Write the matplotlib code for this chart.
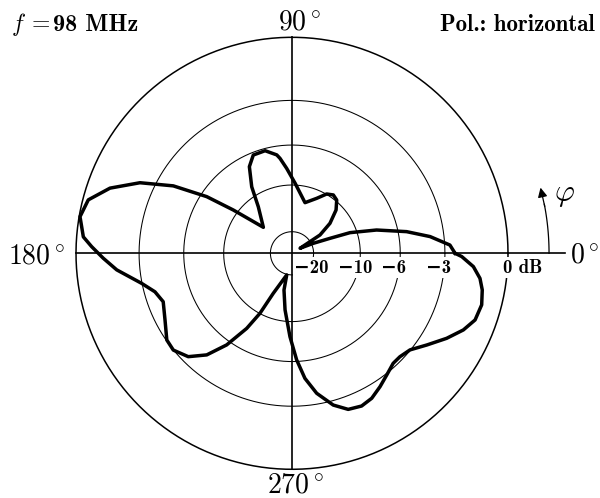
import numpy as np
import matplotlib
matplotlib.use("Agg")
import matplotlib.pyplot as plt

plt.rcParams["mathtext.fontset"] = "cm"
BOLD = ["cmb10", "DejaVu Serif"]

# horizontal-polarisation pattern at 98 MHz, relative field strength (linear, 1 = 0 dB)
angle_deg = np.array([
    0, 3.0, 6.9, 10.7, 15.4, 19.6, 21.5, 25.1, 32.0,
    33.2, 38.3, 44.5, 50.0, 54.7, 59.7, 65.8, 75.6, 87.5, 93.6,
    97.2, 98.8, 104.7, 111.5, 116.2, 121.2, 125.9, 137.8,
    143.6, 146.4, 150.4, 155.1, 160.3, 165.3, 170.2, 175.5, 178.1,
    181.5, 185.4, 191.3, 195.7, 200.6, 207.7, 214.7, 219.2, 224.9,
    230.0, 234.5, 238.9, 241.9, 244.9, 256.3,
    257.7, 263.0, 268.6, 272.5, 275.9, 280.0, 285.2, 289.8, 294.5,
    298.8, 303.4, 307.9, 312.6, 316.2, 320.7, 325.8, 331.2, 335.9,
    340.0, 344.8, 349.1, 352.4, 355.8, 358.9, 360.0])
rel_field = np.array([
    0.755, 0.732, 0.644, 0.540, 0.406, 0.285, 0.189, 0.109, 0.044,
    0.155, 0.224, 0.286, 0.322, 0.331, 0.318, 0.279, 0.242, 0.325, 0.394,
    0.443, 0.461, 0.491, 0.489, 0.447, 0.360, 0.266, 0.179,
    0.338, 0.474, 0.632, 0.776, 0.895, 0.975, 0.996, 0.969, 0.928,
    0.874, 0.815, 0.710, 0.659, 0.637, 0.664, 0.705, 0.709, 0.678,
    0.614, 0.521, 0.406, 0.315, 0.205, 0.103,
    0.174, 0.264, 0.386, 0.494, 0.582, 0.658, 0.728, 0.768, 0.777,
    0.766, 0.740, 0.714, 0.692, 0.692, 0.706, 0.755, 0.817, 0.869,
    0.902, 0.910, 0.897, 0.878, 0.842, 0.786, 0.755])

ring_db = [-20, -10, -6, -3, 0]
ring_labels = ["\u221220", "\u221210", "\u22126", "\u22123", "0 dB"]
axis_angles = [0, 90, 180, 270]
axis_labels = [r"$0^\circ$", r"$90^\circ$", r"$180^\circ$", r"$270^\circ$"]

# pixel geometry of the diagram
W, H = 600, 498
cx, cy, R = 292, 253.3, 216.0

fig = plt.figure(figsize=(W / 100, H / 100), dpi=100)
ax = fig.add_axes([0, 0, 1, 1])
ax.set_xlim(-cx / R, (W - cx) / R)
ax.set_ylim(-(H - cy) / R, cy / R)
ax.axis("off")

# dB rings on a linear field scale
t = np.linspace(0, 2 * np.pi, 500)
for db in ring_db:
    rr = 10 ** (db / 20)
    ax.plot(rr * np.cos(t), rr * np.sin(t), color="black",
            lw=1.1 if db == 0 else 0.75, zorder=1)

# cross hairs
ax.plot([-1.0, 1.264], [0, 0], color="black", lw=1.2, zorder=2)
ax.plot([0, 0], [-1.0, 1.01], color="black", lw=1.2, zorder=2)

# ring labels sit just under the 0 deg axis
shift = [-0.009, -0.024, -0.032, -0.031, -0.025]
for db, lab, s in zip(ring_db, ring_labels, shift):
    rr = 10 ** (db / 20)
    ax.text(rr + s, -0.066, lab, fontsize=13.5, family=BOLD, weight="bold",
            ha="left" if db == 0 else "center", va="center", zorder=3,
            bbox=dict(facecolor="white", edgecolor="none", pad=0.8))

# pattern
th = np.deg2rad(angle_deg)
ax.plot(rel_field * np.cos(th), rel_field * np.sin(th),
        color="black", lw=2.5, solid_joinstyle="round", zorder=4)

# angle labels
pos = {0: (1.288, -0.005, "left"), 90: (0.035, 1.071, "center"),
       180: (-1.183, -0.01, "center"), 270: (0.016, -1.072, "center")}
for a, lab in zip(axis_angles, axis_labels):
    x, y, ha = pos[a]
    ax.text(x, y, lab, fontsize=20, ha=ha, va="center", zorder=5,
            bbox=dict(facecolor="white", edgecolor="none", pad=0.2))

# direction of phi
ra = 1.19
arc = np.deg2rad(np.linspace(0, 11, 30))
ax.plot(ra * np.cos(arc), ra * np.sin(arc), color="black", lw=0.9)
a0, a1 = np.deg2rad(10.5), np.deg2rad(14.8)
ax.annotate("", xy=(ra * np.cos(a1), ra * np.sin(a1)),
            xytext=(ra * np.cos(a0), ra * np.sin(a0)),
            arrowprops=dict(arrowstyle="-|>", color="black", lw=0.9,
                            mutation_scale=14, shrinkA=0, shrinkB=0))
ax.text(1.262, 0.27, r"$\varphi$", fontsize=22, ha="center", va="center")

# header
fig.text(0.018, 0.95, r"$f$", fontsize=17, ha="left", va="center")
fig.text(0.052, 0.952, "=", fontsize=17, family="cmr10", ha="left",
         va="center")
fig.text(0.089, 0.95, "98 MHz", fontsize=17.5, family=BOLD, weight="bold",
         ha="left", va="center")
fig.text(0.992, 0.95, "Pol.: horizontal", fontsize=16.5, family=BOLD,
         weight="bold", ha="right", va="center")

fig.savefig("out.png", dpi=100)
